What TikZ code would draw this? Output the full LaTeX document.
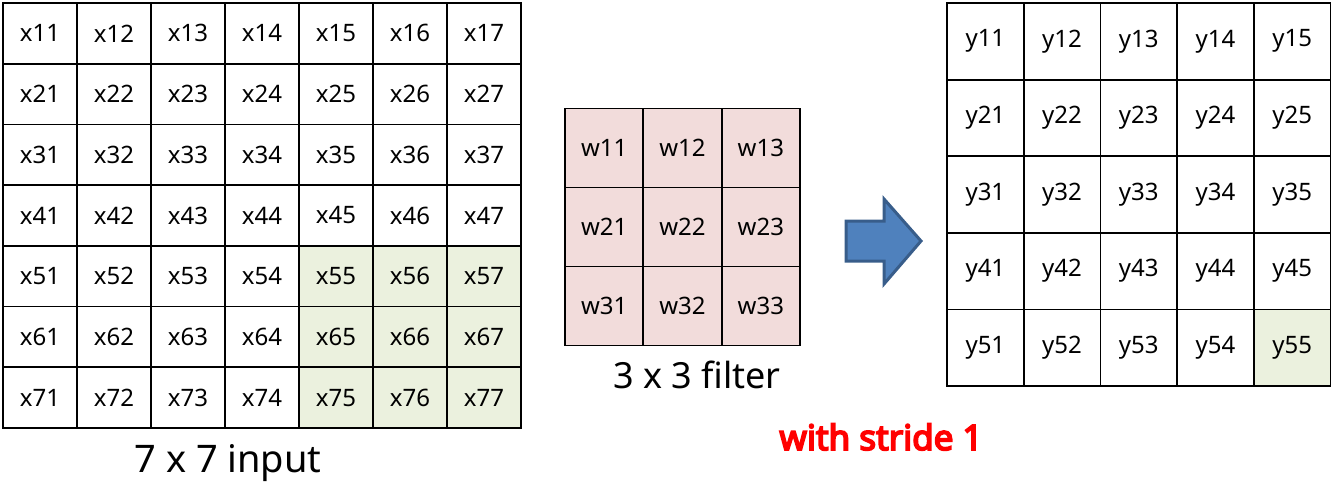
\documentclass[tikz,border=0pt]{standalone}
\usepackage{fontspec}
\setmainfont{Noto Sans}
\newfontfamily\stridefont{Noto Sans}[FakeBold=5]
\usepackage{xcolor}
\usepackage{tikz}
\usetikzlibrary{positioning}

\definecolor{cellgreen}{RGB}{235,241,222}
\definecolor{cellpink}{RGB}{242,220,219}
\definecolor{arrowfill}{RGB}{79,129,189}
\definecolor{arrowline}{RGB}{56,93,138}
\definecolor{stridered}{RGB}{255,0,0}

\begin{document}
\begin{tikzpicture}[
    x=1pt, y=-1pt,
    incell/.style={rectangle, draw, line width=1.8pt, minimum width=74pt, minimum height=60.7pt, inner sep=0pt, font=\fontsize{24}{24}\selectfont},
    wcell/.style={incell, fill=cellpink, minimum width=78.3pt, minimum height=79pt},
    outcell/.style={incell, minimum width=76.7pt, minimum height=76.6pt},
    caption/.style={anchor=base, font=\fontsize{38}{38}\selectfont}
]
\useasboundingbox (0,0) rectangle (1333,503);

% 7 x 7 input
\foreach \i in {1,...,7}
  \foreach \j in {1,...,7} {
    \ifnum\i>4 \ifnum\j>4 \def\cellfill{cellgreen}\else\def\cellfill{white}\fi\else\def\cellfill{white}\fi
    \node[incell, fill=\cellfill] (x\i\j) at ({74*\j-34},{3+60.71*(\i-0.5)}) {x\i\j};
  }

% 3 x 3 filter
\foreach \i in {1,...,3}
  \foreach \j in {1,...,3}
    \node[wcell] (w\i\j) at ({565+78.33*(\j-0.5)},{108.5+79*(\i-0.5)}) {w\i\j};

% 5 x 5 output
\foreach \i in {1,...,5}
  \foreach \j in {1,...,5} {
    \ifnum\i=5 \ifnum\j=5 \def\cellfill{cellgreen}\else\def\cellfill{white}\fi\else\def\cellfill{white}\fi
    \node[outcell, fill=\cellfill] (y\i\j) at ({947+76.7*(\j-0.5)},{3+76.6*(\i-0.5)}) {y\i\j};
  }

% Block arrow
\draw[line width=3pt, draw=arrowline, fill=arrowfill, line join=miter]
  (846,221) -- (884,221) -- (884,199) -- (921,241) -- (884,284) -- (884,261) -- (846,261) -- cycle;

% Labels
\node[caption] (incap) at (228,472) {7 x 7 input};
\node[caption, font=\fontsize{36}{36}\selectfont] (wcap) at (697,388) {3 x 3 filter};
\node[caption, font=\fontsize{35}{35}\stridefont, text=stridered] (stride) at (881,450) {with stride 1};

\end{tikzpicture}
\end{document}
